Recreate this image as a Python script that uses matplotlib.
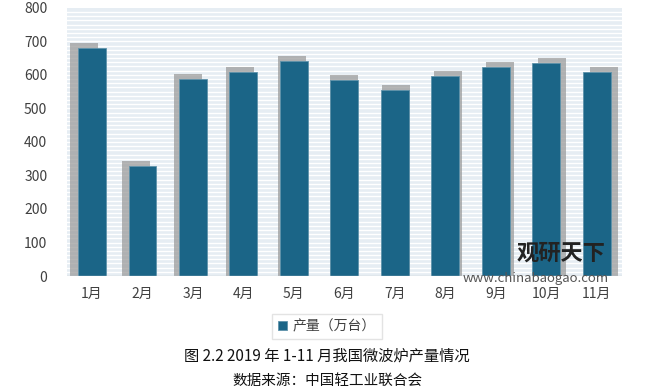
import numpy as np
import matplotlib.pyplot as plt
from matplotlib.patches import Rectangle

plt.rcParams['font.family'] = ['Noto Sans CJK SC', 'DejaVu Sans']

# data
months = ['1月', '2月', '3月', '4月', '5月', '6月', '7月', '8月', '9月', '10月', '11月']
output = [680, 329, 589, 609, 642, 584, 554, 598, 623, 635, 608]
yticks = [0, 100, 200, 300, 400, 500, 600, 700, 800]

fig = plt.figure(figsize=(6.54, 3.91), dpi=100)
ax = fig.add_axes([0.102, 0.294, 0.849, 0.686])

x = np.arange(len(months))
width = 0.55

# striped background
ax.set_facecolor('#e6edf3')
for yy in np.arange(0, 800, 12.5):
    ax.axhline(yy, color='white', lw=1.0, zorder=0)

# perspective shadow behind each bar (spreads away from the centre)
center = (len(months) - 1) / 2
for xi, v in zip(x, output):
    dx = (xi - center) * 0.03
    ax.add_patch(Rectangle((xi - width / 2 + dx, 0), width, v + 15,
                           color='#9c9c9c', alpha=0.75, zorder=1, lw=0))

ax.bar(x, output, width=width, color='#1b6587', edgecolor='#5f93ab',
       linewidth=0.6, zorder=2, label='产量（万台）')

ax.set_xlim(-0.5, len(months) - 0.5)
ax.set_ylim(0, 800)
ax.set_yticks(yticks)
ax.set_xticks(x)
ax.set_xticklabels(months)
ax.tick_params(length=0, labelsize=10, colors='#404040', pad=8)
ax.tick_params(axis='y', pad=14)
for s in ax.spines.values():
    s.set_visible(False)
ax.axhline(0, color='#b8c4cc', lw=1, zorder=3)

leg = fig.legend(loc='center', bbox_to_anchor=(0.5, 0.165), frameon=True,
                 fontsize=10, handlelength=0.7, handleheight=0.7,
                 handletextpad=0.4, fancybox=False, borderpad=0.4)
leg.get_frame().set_edgecolor('#dddddd')
for t in leg.get_texts():
    t.set_color('#404040')

# watermark
fig.text(0.79, 0.335, '观研天下', fontsize=16, fontweight='bold', color='#222222')
fig.text(0.708, 0.28, 'www.chinabaogao.com', fontsize=9.5, color='#555555')

fig.text(0.5, 0.09, '图 2.2 2019 年 1-11 月我国微波炉产量情况', ha='center',
         va='center', fontsize=11, color='#111111')
fig.text(0.5, 0.025, '数据来源：中国轻工业联合会', ha='center', va='center',
         fontsize=10.5, color='#111111')

fig.savefig('out.png', dpi=100)
